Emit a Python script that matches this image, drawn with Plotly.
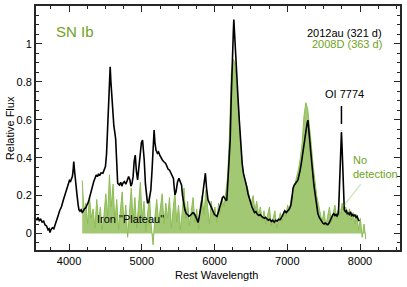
import plotly.graph_objects as go

# ---- 2012au (321 d) : black line ----
au_wl = [3546,3560,3575,3590,3610,3630,3650,3670,3690,3710,3725,3737,3750,3770,3790,3805,3830,3850,3870,3896,
         3920,3945,3965,3986,4005,4020,4032,4045,4055,4064,4075,4091,4110,4125,4136,4150,4165,4180,4191,4210,
         4230,4245,4259,4275,4290,4305,4320,4340,4355,4373,4390,4405,4420,4440,4464,4480,4500,4515,4530,4545,
         4557,4565,4575,4588,4600,4615,4630,4640,4652,4668,4680,4692,4710,4725,4740,4760,4780,4800,4819,4835,
         4850,4865,4880,4895,4910,4925,4942,4960,4980,4995,5010,5022,5033,5050,5065,5078,5095,5110,5124,5140,
         5155,5169,5180,5195,5214,5230,5250,5265,5283,5300,5315,5328,5345,5360,5380,5400,5419,5435,5446,5456,
         5470,5490,5510,5528,5546,5560,5575,5592,5610,5630,5647,5665,5680,5700,5715,5735,5755,5774,5790,5805,
         5828,5845,5860,5874,5890,5910,5930,5950,5965,5985,6000,6015,6033,6050,6070,6090,6110,6125,6145,6160,
         6169,6185,6200,6215,6228,6238,6250,6258,6265,6272,6278,6283,6290,6300,6311,6325,6340,6352,6365,6380,
         6397,6410,6425,6442,6460,6480,6500,6515,6533,6550,6570,6590,6610,6630,6647,6665,6685,6700,6720,6740,
         6760,6783,6800,6820,6840,6860,6880,6898,6915,6935,6950,6966,6985,7000,7020,7034,7050,7065,7079,7095,
         7110,7125,7147,7160,7175,7193,7210,7225,7238,7250,7261,7272,7284,7295,7306,7318,7329,7340,7352,7365,
         7375,7390,7405,7420,7440,7460,7475,7488,7505,7520,7540,7557,7575,7590,7610,7625,7640,7655,7670,7684,
         7700,7707,7718,7730,7738,7745,7752,7760,7771,7784,7800,7815,7825,7839,7855,7870,7885,7900,7915,7930,
         7945,7960,7975,7990]
au_flux = [0.080,0.070,0.085,0.068,0.075,0.060,0.065,0.045,0.040,0.020,0.025,0.005,0.020,0.030,0.025,0.040,0.070,0.095,0.120,0.142,
           0.175,0.210,0.235,0.265,0.280,0.275,0.290,0.300,0.330,0.379,0.330,0.283,0.200,0.150,0.125,0.118,0.125,0.112,0.116,0.130,
           0.135,0.150,0.160,0.180,0.205,0.230,0.250,0.275,0.290,0.309,0.300,0.315,0.305,0.320,0.318,0.330,0.353,0.420,0.560,0.720,
           0.840,0.879,0.800,0.700,0.634,0.570,0.530,0.500,0.400,0.265,0.260,0.256,0.270,0.250,0.265,0.274,0.260,0.285,0.300,0.285,
           0.250,0.265,0.300,0.380,0.414,0.330,0.283,0.350,0.430,0.480,0.493,0.450,0.388,0.260,0.180,0.160,0.165,0.190,0.230,0.330,
           0.470,0.546,0.480,0.440,0.423,0.430,0.410,0.395,0.388,0.380,0.375,0.370,0.355,0.340,0.335,0.315,0.300,0.290,0.240,0.204,
           0.220,0.270,0.291,0.270,0.256,0.200,0.150,0.125,0.105,0.100,0.090,0.095,0.100,0.110,0.107,0.095,0.080,0.058,0.090,0.120,
           0.177,0.230,0.290,0.318,0.240,0.177,0.160,0.140,0.125,0.115,0.100,0.095,0.090,0.110,0.135,0.160,0.190,0.195,0.185,0.175,
           0.177,0.280,0.380,0.493,0.700,0.879,1.000,1.060,1.128,1.070,1.020,1.000,0.990,0.900,0.826,0.700,0.600,0.528,0.440,0.370,
           0.318,0.300,0.270,0.247,0.210,0.180,0.150,0.140,0.125,0.110,0.115,0.100,0.095,0.100,0.090,0.085,0.080,0.085,0.075,0.070,
           0.075,0.063,0.070,0.060,0.070,0.065,0.075,0.072,0.080,0.095,0.110,0.120,0.110,0.115,0.125,0.134,0.150,0.190,0.239,0.255,
           0.260,0.270,0.283,0.300,0.330,0.370,0.420,0.470,0.510,0.540,0.563,0.580,0.598,0.560,0.510,0.450,0.405,0.350,0.300,0.260,
           0.230,0.180,0.140,0.107,0.085,0.070,0.060,0.055,0.050,0.055,0.050,0.046,0.055,0.070,0.090,0.098,0.105,0.095,0.100,0.090,
           0.105,0.134,0.250,0.405,0.500,0.535,0.470,0.350,0.230,0.125,0.115,0.120,0.105,0.107,0.100,0.115,0.095,0.100,0.090,0.100,
           0.085,0.090,0.075,0.065]

# ---- 2008D (363 d) : green filled spectrum, sampled every 25 A from 4180 A ----
d08_start = 4180
d08_step = 25
d08_flux = [0.28,0.12,0.16,0.05,0.20,0.08,0.13,0.03,0.18,0.07,
            0.14,0.02,0.10,0.21,0.09,0.31,0.14,0.26,0.06,0.18,
            0.02,0.12,0.22,0.05,0.15,-0.02,0.10,0.24,0.07,0.19,
            0.03,0.13,0.27,0.08,0.17,0.01,0.12,0.20,0.04,-0.06,
            0.09,0.18,0.06,0.14,0.21,0.05,0.16,0.08,0.19,0.03,
            0.13,0.22,0.06,0.15,0.02,0.11,0.24,0.08,0.17,0.04,
            0.12,0.19,0.06,0.13,0.02,0.15,0.20,0.10,0.23,0.12,
            0.05,0.17,0.09,0.14,0.06,0.16,0.11,0.19,0.14,0.22,
            0.30,0.52,0.84,0.92,0.90,0.76,0.66,0.48,0.36,0.30,
            0.27,0.24,0.19,0.16,0.20,0.12,0.17,0.10,0.14,0.07,
            0.12,0.05,0.10,0.14,0.04,0.09,0.12,0.03,0.08,0.11,
            0.06,0.12,0.09,0.15,0.12,0.19,0.22,0.26,0.30,0.34,
            0.40,0.48,0.62,0.69,0.66,0.58,0.47,0.36,0.27,0.20,
            0.15,0.10,0.06,0.12,0.04,0.09,0.14,0.06,0.11,0.15,
            0.08,0.13,0.10,0.16,0.12,0.14,0.09,0.13,0.07,0.11,
            0.05,0.10,0.02,0.08,-0.02,0.05,-0.03]
d08_wl = [d08_start + d08_step * i for i in range(len(d08_flux))]

x_range = [3545, 8550]
y_range = [-0.087, 1.2]
x_ticks = [4000, 5000, 6000, 7000, 8000]
x_minor = [3750, 4250, 4500, 4750, 5250, 5500, 5750, 6250, 6500, 6750, 7250, 7500, 7750, 8250, 8500]
y_ticks = [0, 0.2, 0.4, 0.6, 0.8, 1, 1.2]
y_tick_text = ["0", "0.2", "0.4", "0.6", "0.8", "1", "1.2"]
y_minor = [-0.05, 0.05, 0.1, 0.15, 0.25, 0.3, 0.35, 0.45, 0.5, 0.55, 0.65, 0.7, 0.75,
           0.85, 0.9, 0.95, 1.05, 1.1, 1.15]
oi_wl = 7745
oi_marker = [0.672, 0.545]

GREEN_TXT = "#6da323"
GREEN_LINE = "#8dbd55"
GREEN_FILL = "rgba(158,197,108,0.95)"
AXIS_COLOR = "#262626"
FONT = "Liberation Sans, Arial, Helvetica, sans-serif"

fig = go.Figure()
fig.add_trace(go.Scatter(x=d08_wl, y=d08_flux, mode="lines", fill="tozeroy",
                         line=dict(color=GREEN_LINE, width=1), fillcolor=GREEN_FILL,
                         hoverinfo="skip", showlegend=False))
fig.add_trace(go.Scatter(x=au_wl, y=au_flux, mode="lines",
                         line=dict(color="black", width=1.6),
                         hoverinfo="skip", showlegend=False))
fig.add_trace(go.Scatter(x=[oi_wl, oi_wl], y=oi_marker, mode="lines",
                         line=dict(color="black", width=1.5, dash="18px,6px"),
                         hoverinfo="skip", showlegend=False))
# invisible anchor trace so the overlaid minor-tick axes are drawn
fig.add_trace(go.Scatter(x=[x_range[0]], y=[y_range[0]], mode="markers", xaxis="x2", yaxis="y2",
                         marker=dict(opacity=0, size=1), hoverinfo="skip", showlegend=False))

fig.update_layout(template="simple_white")

tickfont = dict(family=FONT, size=11, color="black")
fig.update_layout(
    xaxis=dict(range=x_range, tickvals=x_ticks, automargin=False,
               showline=True, linecolor=AXIS_COLOR, linewidth=1.8, mirror="ticks",
               ticks="inside", ticklen=6, tickwidth=1.2, tickcolor=AXIS_COLOR,
               showgrid=False, zeroline=False, tickfont=tickfont),
    yaxis=dict(range=y_range, tickvals=y_ticks, ticktext=y_tick_text, automargin=False,
               showline=True, linecolor=AXIS_COLOR, linewidth=1.8, mirror="ticks",
               ticks="inside", ticklen=6, tickwidth=1.2, tickcolor=AXIS_COLOR,
               showgrid=False, zeroline=False, tickfont=tickfont),
    xaxis2=dict(overlaying="x", anchor="y2", side="bottom", range=x_range, tickvals=x_minor,
                automargin=False, showline=False, mirror="ticks", ticks="inside", ticklen=3,
                tickwidth=1.2, tickcolor=AXIS_COLOR, showticklabels=False, showgrid=False, zeroline=False),
    yaxis2=dict(overlaying="y", anchor="x2", side="left", range=y_range, tickvals=y_minor,
                automargin=False, showline=False, mirror="ticks", ticks="inside", ticklen=3,
                tickwidth=1.2, tickcolor=AXIS_COLOR, showticklabels=False, showgrid=False, zeroline=False),
)

annotations = [
    dict(x=4078, y=1.065, text="SN Ib", showarrow=False, xanchor="center", yanchor="middle",
         font=dict(family=FONT, size=15, color=GREEN_TXT)),
    dict(x=8325, y=1.06, text="2012au (321 d)", showarrow=False, xanchor="right", yanchor="middle",
         font=dict(family=FONT, size=11, color="black")),
    dict(x=8325, y=0.998, text="2008D (363 d)", showarrow=False, xanchor="right", yanchor="middle",
         font=dict(family=FONT, size=11, color=GREEN_TXT)),
    dict(x=7783, y=0.735, text="OI 7774", showarrow=False, xanchor="center", yanchor="middle",
         font=dict(family=FONT, size=11, color="black")),
    dict(x=7870, y=0.35, text="No<br>detection", showarrow=False, xanchor="left", yanchor="middle",
         align="left", font=dict(family=FONT, size=11, color=GREEN_TXT)),
    dict(x=4846, y=0.077, text='Iron "Plateau"', showarrow=False, xanchor="center", yanchor="middle",
         font=dict(family=FONT, size=11, color="black")),
    dict(xref="paper", yref="paper", x=0.497, y=-0.102, text="Rest Wavelength", showarrow=False,
         xanchor="center", yanchor="middle", font=dict(family=FONT, size=11, color="black")),
    dict(xref="paper", yref="paper", x=-0.071, y=0.5, text="Relative Flux", showarrow=False,
         textangle=-90, xanchor="center", yanchor="middle", font=dict(family=FONT, size=11, color="black")),
]

shapes = [
    dict(type="line", x0=8011, x1=7730, y0=0.26, y1=0.125,
         line=dict(color=GREEN_TXT, width=1.3)),
]

fig.update_layout(width=407, height=287, margin=dict(l=36, r=7, t=6, b=37),
                  annotations=annotations, shapes=shapes, showlegend=False)

fig.write_html("out.html", config={"displayModeBar": False},
               post_script="document.body.style.margin='0';")
